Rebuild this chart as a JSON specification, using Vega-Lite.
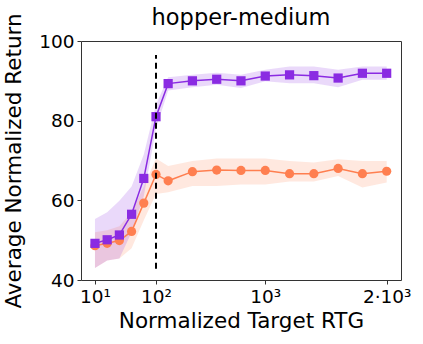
{
  "$schema": "https://vega.github.io/schema/vega-lite/v6.json",
  "width": 320,
  "height": 239,
  "autosize": "none",
  "padding": {"left": 81, "top": 41, "right": 22, "bottom": 64},
  "config": {
    "font": "DejaVu Sans",
    "view": {"stroke": "#333333", "strokeWidth": 1},
    "axis": {"grid": false, "domain": false, "labelFont": "DejaVu Sans", "titleFont": "DejaVu Sans", "labelColor": "#000000", "titleColor": "#000000", "titleFontWeight": "normal", "tickColor": "#333333", "tickSize": 4, "labelFontSize": 18.5, "titleFontSize": 21.5}
  },
  "title": {"text": "hopper-medium", "fontSize": 22.5, "fontWeight": "normal", "font": "DejaVu Sans", "color": "#000000", "offset": 14, "dy": 31, "anchor": "middle", "frame": "group"},
  "datasets": {
    "curves": [
      {"rtg": 10, "method": "orange", "mean": 48.6, "lo": 43.0, "hi": 52.0},
      {"rtg": 28, "method": "orange", "mean": 49.2, "lo": 44.9, "hi": 52.5},
      {"rtg": 46, "method": "orange", "mean": 49.9, "lo": 45.4, "hi": 53.5},
      {"rtg": 64, "method": "orange", "mean": 52.2, "lo": 48.0, "hi": 57.0},
      {"rtg": 82, "method": "orange", "mean": 59.3, "lo": 55.0, "hi": 63.5},
      {"rtg": 100, "method": "orange", "mean": 66.5, "lo": 61.6, "hi": 70.5},
      {"rtg": 200, "method": "orange", "mean": 64.9, "lo": 62.0, "hi": 68.6},
      {"rtg": 400, "method": "orange", "mean": 67.2, "lo": 63.6, "hi": 69.9},
      {"rtg": 600, "method": "orange", "mean": 67.6, "lo": 63.6, "hi": 70.5},
      {"rtg": 800, "method": "orange", "mean": 67.5, "lo": 64.0, "hi": 70.5},
      {"rtg": 1000, "method": "orange", "mean": 67.5, "lo": 64.0, "hi": 70.5},
      {"rtg": 1200, "method": "orange", "mean": 66.7, "lo": 64.7, "hi": 69.9},
      {"rtg": 1400, "method": "orange", "mean": 66.7, "lo": 64.7, "hi": 69.5},
      {"rtg": 1600, "method": "orange", "mean": 68.0, "lo": 66.1, "hi": 70.3},
      {"rtg": 1800, "method": "orange", "mean": 66.7, "lo": 63.2, "hi": 69.9},
      {"rtg": 2000, "method": "orange", "mean": 67.3, "lo": 64.5, "hi": 69.9},
      {"rtg": 10, "method": "purple", "mean": 49.2, "lo": 43.0, "hi": 55.3},
      {"rtg": 28, "method": "purple", "mean": 50.1, "lo": 44.9, "hi": 57.0},
      {"rtg": 46, "method": "purple", "mean": 51.3, "lo": 45.4, "hi": 59.9},
      {"rtg": 64, "method": "purple", "mean": 56.5, "lo": 52.0, "hi": 63.5},
      {"rtg": 82, "method": "purple", "mean": 65.5, "lo": 61.0, "hi": 71.5},
      {"rtg": 100, "method": "purple", "mean": 81.0, "lo": 78.0, "hi": 84.0},
      {"rtg": 200, "method": "purple", "mean": 89.3, "lo": 87.6, "hi": 90.9},
      {"rtg": 400, "method": "purple", "mean": 90.0, "lo": 88.4, "hi": 91.5},
      {"rtg": 600, "method": "purple", "mean": 90.4, "lo": 89.0, "hi": 92.0},
      {"rtg": 800, "method": "purple", "mean": 90.0, "lo": 88.2, "hi": 91.5},
      {"rtg": 1000, "method": "purple", "mean": 91.2, "lo": 89.9, "hi": 92.8},
      {"rtg": 1200, "method": "purple", "mean": 91.5, "lo": 89.4, "hi": 93.6},
      {"rtg": 1400, "method": "purple", "mean": 91.3, "lo": 89.4, "hi": 93.6},
      {"rtg": 1600, "method": "purple", "mean": 90.7, "lo": 88.4, "hi": 92.8},
      {"rtg": 1800, "method": "purple", "mean": 91.9, "lo": 90.3, "hi": 93.6},
      {"rtg": 2000, "method": "purple", "mean": 91.9, "lo": 90.3, "hi": 93.6}
    ],
    "marker": [{"rtg": 100, "ylo": 42.8, "yhi": 96.5}]
  },
  "encoding": {
    "x": {
      "field": "rtg", "type": "quantitative",
      "scale": {"domain": [-10.6, 100, 2118], "range": [0, 75, 320], "nice": false, "zero": false},
      "axis": {"title": "Normalized Target RTG", "values": [10, 100, 1000, 2000], "labelExpr": "datum.value == 10 ? '10¹' : datum.value == 100 ? '10²' : datum.value == 1000 ? '10³' : '2·10³'", "labelPadding": 3, "titlePadding": 5, "labelFlush": false}
    }
  },
  "layer": [
    {
      "data": {"name": "curves"},
      "mark": {"type": "area", "opacity": 0.18},
      "encoding": {
        "y": {"field": "lo", "type": "quantitative", "scale": {"domain": [40, 100], "nice": false, "zero": false}, "axis": {"title": "Average Normalized Return", "values": [40, 60, 80, 100], "labelPadding": 3, "titlePadding": 13}},
        "y2": {"field": "hi"},
        "color": {"field": "method", "type": "nominal", "scale": {"domain": ["orange", "purple"], "range": ["#ff7f50", "#8a2be2"]}, "legend": null},
        "order": {"field": "method"}
      }
    },
    {
      "data": {"name": "curves"},
      "mark": {"type": "line", "strokeWidth": 1.5},
      "encoding": {
        "y": {"field": "mean", "type": "quantitative"},
        "color": {"field": "method", "type": "nominal", "legend": null}
      }
    },
    {
      "data": {"name": "curves"},
      "mark": {"type": "point", "filled": true, "opacity": 1},
      "encoding": {
        "y": {"field": "mean", "type": "quantitative"},
        "color": {"field": "method", "type": "nominal", "legend": null},
        "shape": {"field": "method", "type": "nominal", "scale": {"domain": ["orange", "purple"], "range": ["circle", "square"]}, "legend": null},
        "size": {"value": 85},
        "order": {"field": "method"}
      }
    },
    {
      "data": {"name": "marker"},
      "mark": {"type": "rule", "color": "#000000", "strokeWidth": 2, "strokeDash": [6, 4]},
      "encoding": {
        "y": {"field": "ylo", "type": "quantitative"},
        "y2": {"field": "yhi"}
      }
    }
  ]
}
